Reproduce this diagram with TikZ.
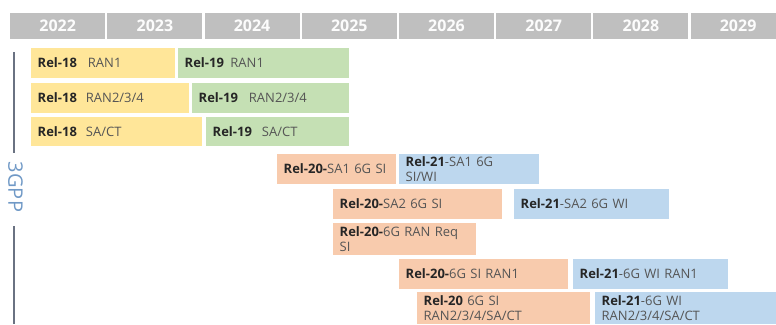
\documentclass[tikz,border=0pt]{standalone}
\usepackage{fontspec}
\setmainfont{Open Sans}
\definecolor{hdr}{HTML}{BFBFBF}
\definecolor{yel}{HTML}{FFE699}
\definecolor{grn}{HTML}{C5E0B4}
\definecolor{org}{HTML}{F8CBAD}
\definecolor{blu}{HTML}{BDD7EE}
\definecolor{txtdark}{HTML}{262626}
\definecolor{txtlight}{HTML}{555555}
\definecolor{axisline}{HTML}{6A7282}
\definecolor{gpptext}{HTML}{7099C6}
\newcommand\relno[1]{{\bfseries\color{txtdark}#1}}
\begin{document}
\begin{tikzpicture}[x=1pt,y=-1pt,
  yearcell/.style={anchor=north west, minimum width=95pt, minimum height=26.5pt,
    inner sep=0pt, fill=hdr, text=white!96!hdr,
    font=\bfseries\fontsize{16}{18}\selectfont, text height=11.4pt, text depth=0pt},
  bar/.style={anchor=north west, inner xsep=6.5pt, inner ysep=0pt, align=left,
    text=txtlight, font=\fontsize{13}{14.5}\selectfont,
    text height=9.3pt, text depth=0pt},
  bartwo/.style={bar, text depth=14.5pt},
  axis/.style={draw=axisline, line width=1.2pt}]
\useasboundingbox (0,0) rectangle (776,324);
\clip (0,0) rectangle (776,324);

% year header
\foreach \yr [count=\i from 0] in {2022,2023,2024,2025,2026,2027,2028,2029}
  \node[yearcell] (y\yr) at ({10+97.2*\i},12.5) {\yr};

% Rel-18 / Rel-19
\node[bar, fill=yel, text width=131pt, minimum height=30pt] (r18ran1) at (31,48)
  {\relno{Rel-18}\hspace{11pt}RAN1};
\node[bar, fill=grn, text width=158pt, minimum height=30pt] (r19ran1) at (178,48)
  {\relno{Rel-19}\hspace{6.5pt}RAN1};
\node[bar, fill=yel, text width=145pt, minimum height=30pt] (r18ran2) at (31,83)
  {\relno{Rel-18}\hspace{9pt}RAN2/3/4};
\node[bar, fill=grn, text width=144pt, minimum height=30pt] (r19ran2) at (192,83)
  {\relno{Rel-19}\hspace{11pt}RAN2/3/4};
\node[bar, fill=yel, text width=158pt, minimum height=29pt] (r18sact) at (31,117)
  {\relno{Rel-18}\hspace{9pt}SA/CT};
\node[bar, fill=grn, text width=130pt, minimum height=29pt] (r19sact) at (206,117)
  {\relno{Rel-19}\hspace{10pt}SA/CT};

% Rel-20 / Rel-21
\node[bar, fill=org, text width=106pt, minimum height=30pt] (r20sa1) at (277,154)
  {\relno{Rel-20-}SA1 6G SI};
\node[bartwo, fill=blu, text width=127pt, minimum height=30pt] (r21sa1) at (399,154)
  {\relno{Rel-21}-SA1 6G\\SI/WI};
\node[bar, fill=org, text width=156pt, minimum height=30pt] (r20sa2) at (333,189)
  {\relno{Rel-20-}SA2 6G SI};
\node[bar, fill=blu, text width=142pt, minimum height=30pt] (r21sa2) at (514,189)
  {\relno{Rel-21}-SA2 6G WI};
\node[bartwo, fill=org, text width=130pt, minimum height=32pt] (r20req) at (333,223)
  {\relno{Rel-20-}6G RAN Req\\SI};
\node[bar, fill=org, text width=156pt, minimum height=30pt] (r20ran1) at (399,259)
  {\relno{Rel-20-}6G SI RAN1};
\node[bar, fill=blu, text width=142pt, minimum height=30pt] (r21ran1) at (573,259)
  {\relno{Rel-21}-6G WI RAN1};
\node[bartwo, fill=org, text width=160pt, minimum height=32pt] (r20ran2) at (417,292)
  {\relno{Rel-20} 6G SI\\RAN2/3/4/SA/CT};
\node[bartwo, fill=blu, text width=182pt, minimum height=32pt] (r21ran2) at (595,292)
  {\relno{Rel-21}-6G WI\\RAN2/3/4/SA/CT};

% 3GPP axis
\node[rotate=-90, text=gpptext, font=\fontsize{20}{22}\selectfont, inner sep=0pt]
  (gpp) at (15.5,187) {3GPP};
\coordinate (axtopa) at (14,52);
\coordinate (axtopb) at (14,153);
\coordinate (axbota) at (14,226);
\coordinate (axbotb) at (14,324);
\draw[axis] (axtopa) -- (axtopb);
\draw[axis] (axbota) -- (axbotb);
\end{tikzpicture}
\end{document}
